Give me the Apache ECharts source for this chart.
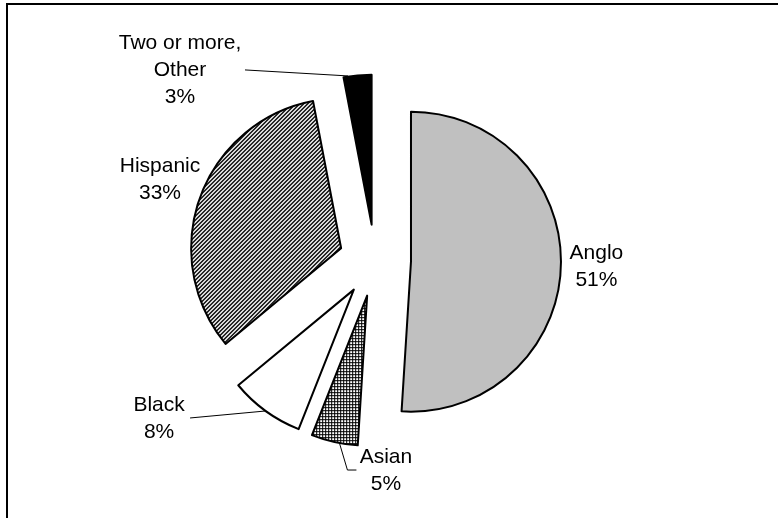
<!DOCTYPE html>
<html><head><meta charset="utf-8">
<script src="https://cdn.jsdelivr.net/npm/echarts@6/dist/echarts.min.js"></script>
<style>html,body{margin:0;padding:0;background:#fff;overflow:hidden}#c{width:778px;height:518px}</style>
</head><body><div id="c"></div>
<script>
const categories = ['Anglo', 'Asian', 'Black', 'Hispanic', 'Two or more, Other'];
const labelTexts = ['Anglo', 'Asian', 'Black', 'Hispanic', 'Two or more,\nOther'];
const values = [51, 5, 8, 33, 3];

function makePattern(size, fn) {
  const c = document.createElement('canvas');
  c.width = c.height = size;
  const ctx = c.getContext('2d');
  ctx.fillStyle = '#fff'; ctx.fillRect(0, 0, size, size);
  ctx.fillStyle = '#000';
  for (let y = 0; y < size; y++) for (let x = 0; x < size; x++) if (fn(x, y)) ctx.fillRect(x, y, 1, 1);
  return c;
}
const gridPat = { image: makePattern(3, (x, y) => x === 0 || y === 0), repeat: 'repeat' };
const diagPat = { image: makePattern(4, (x, y) => (x + y) % 4 < 2), repeat: 'repeat' };
const fills = ['#c0c0c0', gridPat, '#ffffff', diagPat, '#000000'];

const LINE_H = 27;
// label text-centre shift from its default anchor, and leader line relative to the arc midpoint
const labelPlace = [
  { shift: [30.5, 0.5], line: null },
  { shift: [56.5, 29], line: [[5, 1], [13, 28], [22, 28]] },
  { shift: [-101.6, 7.5], line: [[0, 0], [-75.6, 7]] },
  { shift: [-35, -18], line: null },
  { shift: [-172.5, -5], line: [[-9.5, 0.6], [-112.5, -5.4]] }
];
function padFor(s, nLines) {
  const sx = s[0] * 2;
  const top = s[1] - nLines * LINE_H / 2;
  return [top, Math.max(-sx, 0), 0, Math.max(sx, 0)];
}

const chart = echarts.init(document.getElementById('c'), null, { renderer: 'canvas' });
chart.setOption({
  animation: false,
  backgroundColor: '#fff',
  graphic: [{
    type: 'polyline', shape: { points: [[7, 520], [7, 4], [780, 4]] },
    style: { fill: 'none', stroke: '#000', lineWidth: 2 }, silent: true
  }],
  series: [{
    type: 'pie',
    center: [375, 260.5],
    radius: 150,
    startAngle: 90,
    clockwise: true,
    selectedMode: 'multiple',
    selectedOffset: 36,
    avoidLabelOverlap: false,
    itemStyle: { borderColor: '#000', borderWidth: 2 },
    select: { itemStyle: { borderColor: '#000', borderWidth: 2 } },
    emphasis: { disabled: true },
    label: {
      show: true, position: 'outside', color: '#000',
      fontFamily: 'Liberation Sans, Arial, sans-serif', fontSize: 21, lineHeight: LINE_H,
      formatter: p => labelTexts[p.dataIndex] + '\n' + p.value + '%'
    },
    labelLine: { show: true, length: 0, length2: 0, lineStyle: { color: '#000', width: 1 } },
    labelLayout: function (params) {
      const p0 = params.labelLinePoints ? params.labelLinePoints[0] : [0, 0];
      const pl = labelPlace[params.dataIndex];
      const pts = pl.line ? pl.line.map(d => [p0[0] + d[0], p0[1] + d[1]]) : [p0, p0];
      return { align: 'center', verticalAlign: 'top', labelLinePoints: pts };
    },
    data: categories.map((n, i) => ({
      name: n, value: values[i], selected: true,
      itemStyle: { color: fills[i] },
      label: { padding: padFor(labelPlace[i].shift, labelTexts[i].split('\n').length + 1) }
    }))
  }]
});
</script>
</body></html>
